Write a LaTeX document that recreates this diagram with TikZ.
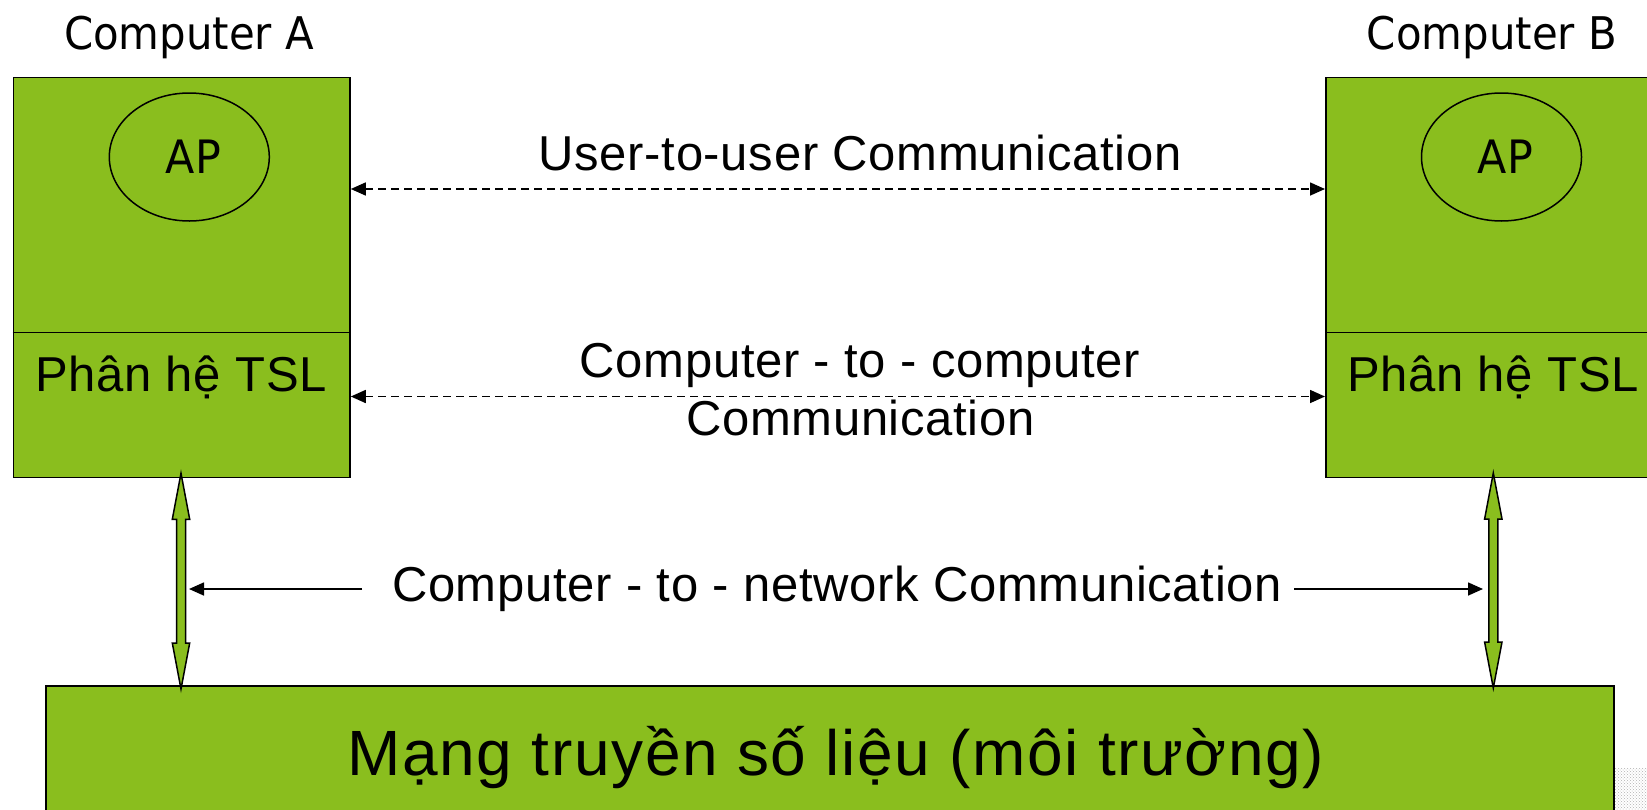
\documentclass[tikz,border=0pt]{standalone}
\usepackage{fontspec}
\setmainfont{Liberation Sans}[LetterSpace=1.4]
\newfontfamily\tahfont{DejaVu Sans}[FakeStretch=0.93]
\usetikzlibrary{arrows.meta,patterns,shapes.geometric,calc}
\definecolor{boxgreen}{RGB}{138,190,30}
\newcommand\blockdarrow[3]{%
  \filldraw[blockarr] (#1,#2) -- (#1+8.7,#2+46) -- (#1+4.5,#2+46) -- (#1+4.5,#3-46)
    -- (#1+8.7,#3-46) -- (#1,#3) -- (#1-8.7,#3-46) -- (#1-4.5,#3-46)
    -- (#1-4.5,#2+46) -- (#1-8.7,#2+46) -- cycle;}
\begin{document}
\begin{tikzpicture}[x=1pt,y=-1pt,
  box/.style={draw=black, line width=1.5pt, fill=boxgreen, inner sep=0pt},
  apell/.style={draw=black, line width=1.5pt, ellipse, inner sep=0pt,
    minimum width=160pt, minimum height=128pt},
  aptext/.style={inner sep=0pt, font=\tahfont\fontsize{46}{55}\selectfont},
  lbl/.style={inner sep=0pt, anchor=base},
  midfont/.style={font=\fontsize{49}{58}\selectfont},
  tahlbl/.style={font=\tahfont\fontsize{45}{54}\selectfont},
  dasharr/.style={{Triangle[length=15pt,width=13pt]}-{Triangle[length=15pt,width=13pt]},
    line width=1.6pt, dash pattern=on 8pt off 5pt},
  solarr/.style={-{Triangle[length=15pt,width=13pt]}, line width=1.6pt},
  blockarr/.style={draw=black, line width=1.5pt, fill=boxgreen, line join=miter}]
\useasboundingbox (0,0) rectangle (1647,809);
\clip (0,0) rectangle (1647,809);
\fill[white] (0,0) rectangle (1647,809);

% boxes
\node[box, anchor=north west, minimum width=336.6pt, minimum height=400pt] (A) at (12.7,76.7) {};
\node[box, anchor=north west, minimum width=336.6pt, minimum height=400pt] (B) at (1325,76.7) {};
\node[box, anchor=north west, minimum width=1568pt, minimum height=140pt] (N) at (45,685) {};
\draw[line width=1.5pt] ($(A.north west)+(0,256)$) -- ($(A.north east)+(0,256)$);
\draw[line width=1.5pt] ($(B.north west)+(0,256)$) -- ($(B.north east)+(0,256)$);

% titles
\node[lbl, tahlbl] (cA) at (189,49) {Computer A};
\node[lbl, tahlbl] (cB) at (1492,49) {Computer B};

% AP ellipses
\node[apell] (apA) at (189.3,157) {};
\node[apell] (apB) at (1501.5,157) {};
\node[aptext] (apAt) at ($(apA.center)+(4,0)$) {AP};
\node[aptext] (apBt) at ($(apB.center)+(4,0)$) {AP};

% subsystem labels
\node[lbl, midfont] (tA) at (181,391) {Phân hệ TSL};
\node[lbl, midfont] (tB) at (1493,391) {Phân hệ TSL};

% dashed communication arrows
\coordinate (y1) at (0,189);
\coordinate (y2) at (0,396.5);
\draw[dasharr] (A.east |- y1) -- (B.west |- y1);
\draw[dasharr] (A.east |- y2) -- (B.west |- y2);
\node[lbl, midfont] (u2u) at (860,170) {User-to-user Communication};
\node[lbl, midfont] (c2c1) at (860,377) {Computer - to - computer};
\node[lbl, midfont] (c2c2) at (860.5,435) {Communication};

% block double arrows
\blockdarrow{181}{473.3}{689}
\blockdarrow{1493.3}{473}{688}

% computer-to-network
\node[lbl, midfont] (c2n) at (837,601.7) {Computer - to - network Communication};
\coordinate (lA) at (362,589);
\coordinate (tipA) at (189,589);
\coordinate (lB) at (1294,589);
\coordinate (tipB) at (1483,589);
\draw[solarr] (lA) -- (tipA);
\draw[solarr] (lB) -- (tipB);

% network label
\node[lbl, font=\fontsize{64}{76}\selectfont\addfontfeatures{LetterSpace=2.5}] (net) at (836,775) {Mạng truyền số liệu (môi trường)};

% dotted patch
\fill[pattern=crosshatch dots, pattern color=gray!60] (1615,768) rectangle (1647,809);
\end{tikzpicture}
\end{document}
